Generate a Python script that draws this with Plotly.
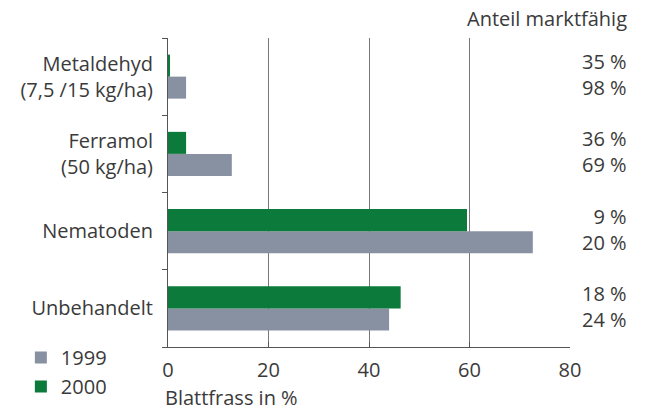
import plotly.graph_objects as go

categories = ["Metaldehyd<br>(7,5 /15 kg/ha)", "Ferramol<br>(50 kg/ha)", "Nematoden", "Unbehandelt"]
values_1999 = [3.6, 12.7, 72.6, 44.0]
values_2000 = [0.4, 3.6, 59.5, 46.3]
market_1999 = ["98 %", "69 %", "20 %", "24 %"]
market_2000 = ["35 %", "36 %", "9 %", "18 %"]
x_ticks = [0, 20, 40, 60, 80]
grid_ticks = [20, 40, 60]

GRAY = "#8891a1"
GREEN = "#0b7a3a"
TXT = "#3a3a3a"
FONT = "Open Sans"
FS = 20

fig = go.Figure()
fig.add_trace(go.Bar(y=categories, x=values_1999, orientation="h", name="1999",
                     marker=dict(color=GRAY, line=dict(width=0))))
fig.add_trace(go.Bar(y=categories, x=values_2000, orientation="h", name="2000",
                     marker=dict(color=GREEN, line=dict(width=0))))

ann = []
for c, a, b in zip(categories, market_2000, market_1999):
    ann.append(dict(xref="paper", yref="y", x=1.147, y=c, text=a + "<br>" + b,
                    xanchor="right", yanchor="middle", yshift=2, showarrow=False,
                    align="right", font=dict(family=FONT, size=FS, color=TXT)))
ann.append(dict(xref="paper", yref="paper", x=1.147, y=1.0, yshift=20, text="Anteil marktfähig",
                xanchor="right", yanchor="middle", showarrow=False,
                font=dict(family=FONT, size=FS, color=TXT)))
ann.append(dict(xref="paper", yref="paper", x=-0.012, y=-0.163, text="Blattfrass in %",
                xanchor="left", yanchor="middle", showarrow=False,
                font=dict(family=FONT, size=FS, color=TXT)))

fig.update_layout(
    width=645, height=410,
    margin=dict(l=168, r=75, t=38, b=63, autoexpand=False),
    paper_bgcolor="white", plot_bgcolor="white",
    barmode="group", bargap=0.43, bargroupgap=0,
    font=dict(family=FONT, size=FS, color=TXT),
    showlegend=True,
    legend=dict(x=-0.366, y=0.029, xanchor="left", yanchor="top", traceorder="normal",
                font=dict(family=FONT, size=FS, color=TXT), itemwidth=30,
                bgcolor="rgba(0,0,0,0)"),
    annotations=ann,
    xaxis=dict(range=[0, 80], tickvals=x_ticks, showgrid=False, zeroline=False,
               showline=True, linecolor="#555", linewidth=1,
               ticks="inside", ticklen=5, tickcolor="#555", automargin=False,
               tickfont=dict(family=FONT, size=FS, color=TXT), ticklabelstandoff=5),
    xaxis2=dict(range=[0, 80], tickvals=grid_ticks, overlaying="x", side="bottom",
                showgrid=True, gridcolor="#777", gridwidth=1, showticklabels=False,
                zeroline=False, showline=False, ticks="", automargin=False),
    yaxis=dict(type="category", categoryorder="array", categoryarray=categories[::-1],
               showline=True, linecolor="#555", linewidth=1, ticks="outside",
               tickson="boundaries", ticklen=5, tickcolor="#555", showgrid=False,
               automargin=False,
               tickfont=dict(family=FONT, size=FS, color=TXT), ticklabelstandoff=10),
)
fig.add_trace(go.Scatter(x=[0], y=[categories[0]], xaxis="x2", mode="markers",
                         marker=dict(opacity=0), showlegend=False, hoverinfo="skip"))
fig.write_html("out.html", config={"displayModeBar": False},
               post_script="document.body.style.margin='0px';document.body.style.overflow='hidden';")
